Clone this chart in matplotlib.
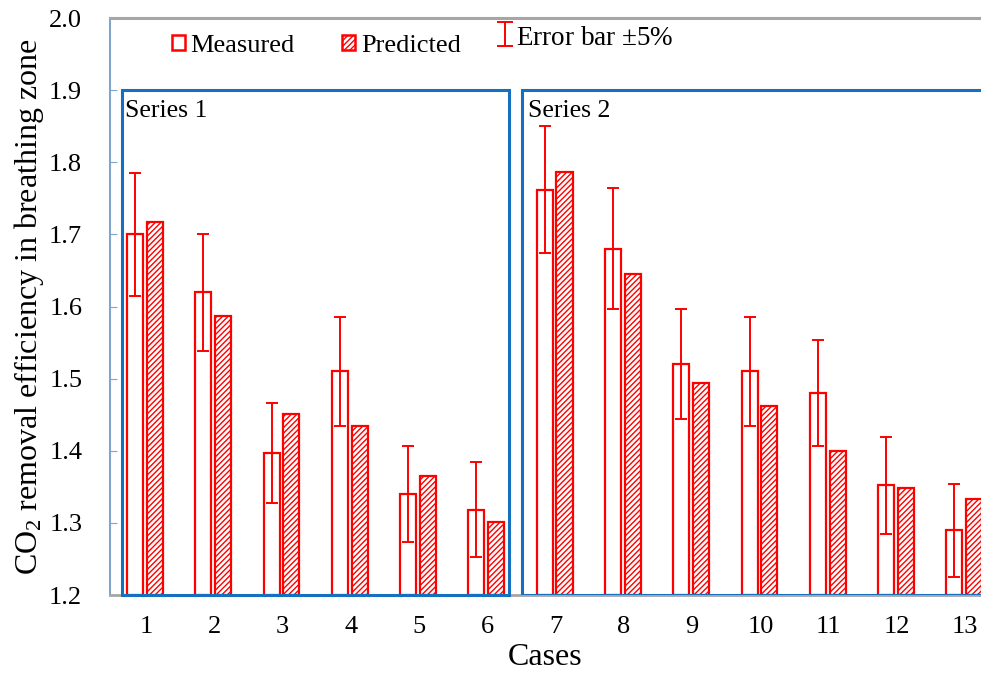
import matplotlib
matplotlib.use("Agg")
import matplotlib.pyplot as plt
from matplotlib.patches import Patch, Rectangle

plt.rcParams['font.family'] = ['Liberation Serif', 'DejaVu Serif']
plt.rcParams['mathtext.fontset'] = 'custom'
plt.rcParams['mathtext.rm'] = 'Liberation Serif'
plt.rcParams['mathtext.it'] = 'Liberation Serif:italic'
plt.rcParams['hatch.color'] = '#ff6060'
plt.rcParams['hatch.linewidth'] = 1.0

# data
cases = list(range(1, 14))
measured = [1.700, 1.620, 1.397, 1.510, 1.340, 1.318, 1.762, 1.680, 1.520, 1.510, 1.480, 1.352, 1.290]
predicted = [1.717, 1.587, 1.451, 1.434, 1.365, 1.301, 1.786, 1.645, 1.494, 1.462, 1.400, 1.348, 1.333]
err_pct = 0.05

fig = plt.figure(figsize=(9.81, 6.75), dpi=100)
ax = fig.add_axes([0.1121, 0.1185, 1 - 0.1121, 0.9733 - 0.1185])

w = 0.235
base = 1.2
xm = [c - 0.16 for c in cases]
xp = [c + 0.13 for c in cases]
ax.bar(xm, [m - base for m in measured], width=w, bottom=base, facecolor='white',
       edgecolor='red', linewidth=1.6, zorder=3)
ax.bar(xp, [p - base for p in predicted], width=w, bottom=base, facecolor='white',
       edgecolor='red', linewidth=1.6, hatch='//////', zorder=3)
ax.errorbar(xm, measured, yerr=[m * err_pct for m in measured], fmt='none',
            ecolor='red', elinewidth=1.4, capsize=4.5, capthick=1.4, zorder=4)

# series boxes
ax.add_patch(Rectangle((0.648, 1.2), 6.32 - 0.648, 0.7, fill=False, edgecolor='#1670c0',
                       linewidth=2.2, zorder=5, clip_on=False))
ax.add_patch(Rectangle((6.51, 1.2), 7.2, 0.7, fill=False, edgecolor='#1670c0',
                       linewidth=2.2, zorder=5, clip_on=True))
ax.text(0.7, 1.886, 'Series 1', fontsize=18.5, va='top', ha='left')
ax.text(6.6, 1.886, 'Series 2', fontsize=18.5, va='top', ha='left')

ax.set_xlim(0.473, 13.23)
ax.set_ylim(1.2, 2.0)
ax.set_xticks(cases)
ax.set_xticklabels([str(c) for c in cases])
ax.set_yticks([1.2, 1.3, 1.4, 1.5, 1.6, 1.7, 1.8, 1.9, 2.0])
ax.set_yticklabels(['%.1f' % v for v in ax.get_yticks()])
ax.tick_params(axis='x', length=0, labelsize=19, pad=15)
ax.tick_params(axis='y', direction='in', length=5, color='#7fa6c9', labelsize=19, pad=20)
ax.set_xlabel('Cases', fontsize=23, labelpad=4)
ax.set_ylabel('CO$_2$ removal efficiency in breathing zone', fontsize=23, labelpad=2)

ax.spines['right'].set_visible(False)
ax.spines['top'].set_color('#a6a6a6')
ax.spines['top'].set_linewidth(2.2)
ax.spines['left'].set_color('#7fa6c9')
ax.spines['left'].set_linewidth(1.5)
ax.spines['bottom'].set_color('#a6a6a6')
ax.spines['bottom'].set_linewidth(2)

handles = [Patch(facecolor='white', edgecolor='red', linewidth=1.8, label='Measured'),
           Patch(facecolor='white', edgecolor='red', linewidth=1.8, hatch='//////', label='Predicted')]
ax.legend(handles=handles, ncol=2, frameon=False, fontsize=19, loc='upper left',
          bbox_to_anchor=(0.044, 1.012), handlelength=0.5, handleheight=0.5,
          handletextpad=0.2, columnspacing=1.8)

# error bar key
ex = 0.454
ax.plot([ex, ex], [0.951, 0.993], color='red', lw=1.4, transform=ax.transAxes, clip_on=False)
ax.plot([ex - 0.008, ex + 0.008], [0.993, 0.993], color='red', lw=1.4, transform=ax.transAxes, clip_on=False)
ax.plot([ex - 0.008, ex + 0.008], [0.951, 0.951], color='red', lw=1.4, transform=ax.transAxes, clip_on=False)
ax.text(ex + 0.012, 0.965, 'Error bar $\\pm$5%', fontsize=19.5, va='center', ha='left',
        transform=ax.transAxes)

fig.savefig('out.png', dpi=100)
